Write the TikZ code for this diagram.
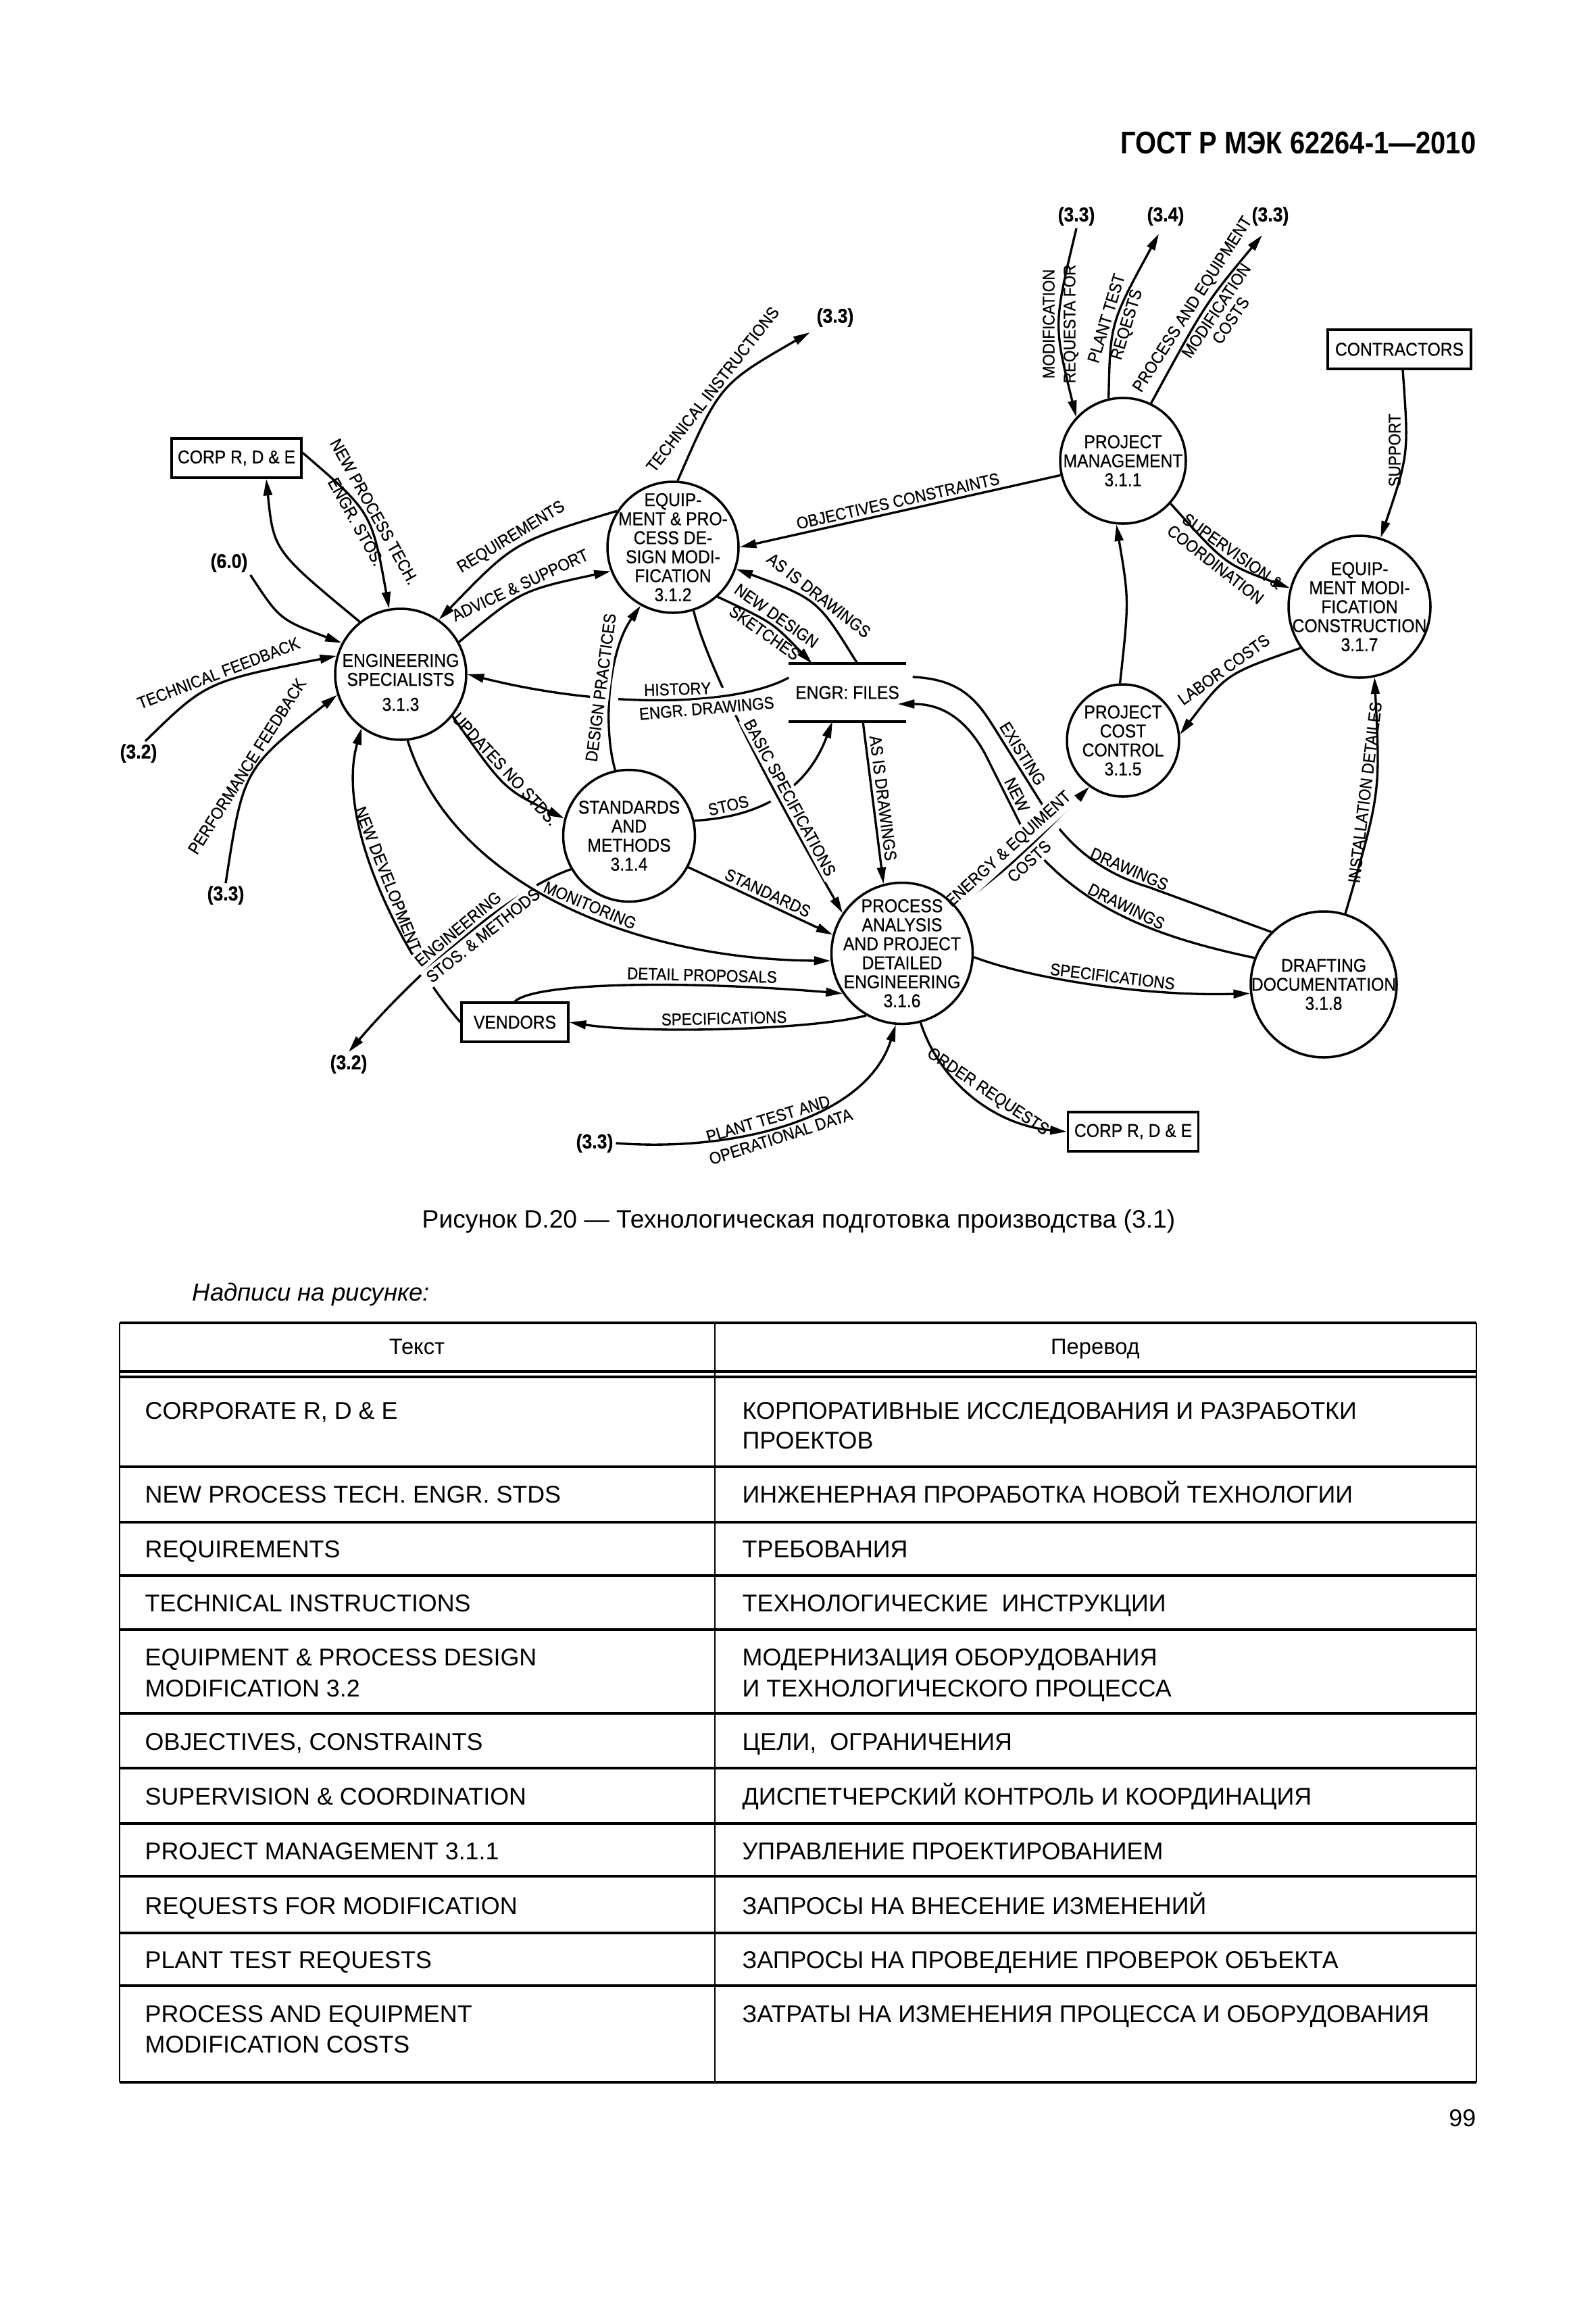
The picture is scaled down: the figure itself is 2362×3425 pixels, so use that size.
\documentclass[tikz,border=0pt]{standalone}
\usepackage{fontspec}
\setmainfont{Liberation Sans}
\newfontfamily\dfdfont[FakeStretch=0.9, FakeBold=0.6]{Liberation Sans}
\newfontfamily\hdrfont[FakeStretch=0.86]{Liberation Sans}
\usetikzlibrary{arrows.meta}
\pgfdeclarelayer{front}
\pgfsetlayers{main,front}

\begin{document}
\begin{tikzpicture}[
  x=0.1mm, y=-0.1mm,
  proc/.style={draw, circle, line width=1pt, inner sep=0pt},
  ptext/.style={font=\dfdfont\fontsize{7.8}{8}\selectfont, align=center, inner sep=0pt},
  extbox/.style={draw, line width=1pt, minimum height=5.8mm, inner sep=0pt,
                 font=\dfdfont\fontsize{7.8}{8}\selectfont},
  srcref/.style={font=\dfdfont\bfseries\fontsize{8.4}{9}\selectfont, inner sep=1pt},
  flow/.style={line width=0.95pt},
  arrow/.style={flow, -{Triangle[length=7pt, width=3.6pt]}},
  hop/.style={preaction={draw=white, line width=7pt, arrows=-}},
  lbl/.style={font=\dfdfont\fontsize{7.1}{7.4}\selectfont, inner sep=1.4pt, align=center},
  wlbl/.style={lbl, fill=white},
  tcell/.style={anchor=base west, inner sep=0pt, font=\fontsize{10.2}{12}\selectfont},
  thead/.style={anchor=base, inner sep=0pt, font=\fontsize{9.3}{11}\selectfont},
  rule/.style={line width=1.2pt}
]
\fill[white] (0,0) rectangle (2362,3425);
\useasboundingbox (0,0) rectangle (2362,3425);

% Page head
\node[anchor=base east, inner sep=0pt, font=\hdrfont\bfseries\fontsize{13.2}{14}\selectfont] (hdr) at (2185,227) {ГОСТ Р МЭК 62264-1—2010};

\begin{pgfonlayer}{front}
  % Processes
  \node[proc, minimum size=18.6mm] (pm) at (1662,682) {};
  \node[ptext] (pmtext) at (pm) {PROJECT\\MANAGEMENT\\3.1.1};
  \node[proc, minimum size=19.4mm] (epd) at (996,810) {};
  \node[ptext] (epdtext) at (epd) {EQUIP-\\MENT \& PRO-\\CESS DE-\\SIGN MODI-\\FICATION\\3.1.2};
  \node[proc, minimum size=19.4mm] (eng) at (593,998) {};
  \node[ptext] (engtext) at ([yshift=-1.2mm]eng) {ENGINEERING\\SPECIALISTS\\[2.5pt]3.1.3};
  \node[proc, minimum size=19.5mm] (stm) at (931,1237) {};
  \node[ptext] (stmtext) at (stm) {STANDARDS\\AND\\METHODS\\3.1.4};
  \node[proc, minimum size=16.6mm] (pcc) at (1662,1096) {};
  \node[ptext] (pcctext) at (pcc) {PROJECT\\COST\\CONTROL\\3.1.5};
  \node[proc, minimum size=20.9mm] (pad) at (1335,1411) {};
  \node[ptext] (padtext) at (pad) {PROCESS\\ANALYSIS\\AND PROJECT\\DETAILED\\ENGINEERING\\3.1.6};
  \node[proc, minimum size=21mm] (emc) at (2012,898) {};
  \node[ptext] (emctext) at (emc) {EQUIP-\\MENT MODI-\\FICATION\\CONSTRUCTION\\3.1.7};
  \node[proc, minimum size=21.6mm] (drd) at (1959,1457) {};
  \node[ptext] (drdtext) at (drd) {DRAFTING\\DOCUMENTATION\\3.1.8};

  % External entities and store
  \node[extbox, minimum width=19.2mm] (corp1) at (350,678) {CORP R, D \& E};
  \node[extbox, minimum width=19.3mm] (corp2) at (1677,1675) {CORP R, D \& E};
  \node[extbox, minimum width=21.2mm] (contr) at (2071,517) {CONTRACTORS};
  \node[extbox, minimum width=15.8mm] (vend) at (762,1513) {VENDORS};
  \node[inner sep=0pt, minimum width=17.2mm, minimum height=8.4mm,
        font=\dfdfont\fontsize{7.8}{8}\selectfont] (files) at (1254,1025) {ENGR: FILES};
  \draw[line width=1.1pt] (files.north west) -- (files.north east)
                          (files.south west) -- (files.south east);

  % Other diagrams
  \node[srcref] (n60) at (339,833) {(6.0)};
  \node[srcref] (n32a) at (205,1115) {(3.2)};
  \node[srcref] (n33b) at (334,1325) {(3.3)};
  \node[srcref] (n32b) at (516,1575) {(3.2)};
  \node[srcref] (n33a) at (1236,470) {(3.3)};
  \node[srcref] (n33c) at (880,1692) {(3.3)};
  \node[srcref] (n33d) at (1593,320) {(3.3)};
  \node[srcref] (n34) at (1725,320) {(3.4)};
  \node[srcref] (n33e) at (1880,320) {(3.3)};
\end{pgfonlayer}

% Engineering specialists
\draw[arrow] ([yshift=0.8mm]corp1.east) .. controls (550,758) .. (eng.100)
  node[lbl, pos=0.5, sloped, above] {NEW PROCESS TECH.}
  node[lbl, pos=0.5, sloped, below] {ENGR. STOS.};
\draw[arrow] (eng.128) .. controls (405,815) .. ([xshift=4.4mm]corp1.south);
\draw[arrow] (n60.south east) .. controls (414,917) .. (eng.152);
\draw[arrow] ([xshift=1mm]n32a.north) .. controls (305,1009) .. (eng.164)
  node[lbl, pos=0.55, sloped, above] {TECHNICAL FEEDBACK};
\draw[arrow] (n33b.north) .. controls (360,1138) .. (eng.198)
  node[lbl, pos=0.52, sloped, above, inner sep=0.8pt] {PERFORMANCE FEEDBACK};
\draw[arrow] (vend.west) .. controls (600,1420) and (495,1220) .. (eng.234)
  node[lbl, pos=0.5, sloped, above] {NEW DEVELOPMENTS};
\draw[arrow] (epd.147) .. controls (761,802) .. (eng.55)
  node[lbl, pos=0.5, sloped, above] {REQUIREMENTS};
\draw[arrow] (eng.29) .. controls (771,874) .. (epd.201)
  node[lbl, pos=0.5, sloped, above] {ADVICE \& SUPPORT};
\draw[arrow] (eng.321) .. controls (746,1168) .. (stm.165)
  node[lbl, pos=0.41, sloped, above] {UPDATES NO STDS.};

% Equipment and process design
\draw[arrow] (epd.86) .. controls (1065,569) .. ([xshift=-0.6mm, yshift=-0.4mm]n33a.south west)
  node[lbl, pos=0.45, sloped, above] {TECHNICAL INSTRUCTIONS};
\draw[arrow] (pm.193) -- (epd.east)
  node[lbl, pos=0.5, sloped, above] {OBJECTIVES CONSTRAINTS};
\draw[arrow] ([xshift=1.5mm]files.north) .. controls (1210,887) .. (epd.341)
  node[lbl, pos=0.5, sloped, above] {AS IS DRAWINGS};

% Around the files
\draw[arrow] (stm.13) .. controls (1110,1210) and (1190,1180) .. ([xshift=-2.2mm]files.south)
  node[lbl, pos=0.22, sloped, above] {STOS};
\draw[arrow, hop] (epd.288) .. controls (1045,980) and (1120,1130) .. (pad.146)
  node[wlbl, pos=0.73, sloped, above] {BASIC SPECIFICATIONS};
\draw[arrow, hop] ([yshift=2.2mm]files.west) .. controls (1090,1045) and (900,1050) .. (eng.east)
  node[lbl, pos=0.45, sloped, above] {HISTORY}
  node[wlbl, pos=0.36, sloped, below] {ENGR. DRAWINGS};
\draw[arrow, hop] (stm.102) .. controls (892,1075) and (900,965) .. (epd.241)
  node[wlbl, pos=0.5, sloped, allow upside down, above] {DESIGN PRACTICES};
\draw[arrow] (epd.312) .. controls (1143,921) .. ([xshift=-5.2mm]files.north)
  node[lbl, pos=0.5, sloped, above] {NEW DESIGN}
  node[lbl, pos=0.5, sloped, below] {SKETCHES};

% Standards and methods
\draw[arrow, hop] (stm.210) .. controls (760,1315) and (620,1435) .. (n32b.north)
  node[wlbl, pos=0.5, sloped, above] {ENGINEERING}
  node[wlbl, pos=0.45, sloped, below] {STOS. \& METHODS};
\draw[arrow] (eng.276) .. controls (670,1310) and (940,1420) .. (pad.186)
  node[lbl, pos=0.55, sloped, above] {MONITORING};
\draw[arrow] (stm.332) -- (pad.165)
  node[lbl, pos=0.52, sloped, above] {STANDARDS};
\draw[arrow] ([xshift=2.3mm]files.south) -- (pad.105)
  node[lbl, pos=0.48, sloped, above] {AS IS DRAWINGS};

% Detailed engineering
\draw[arrow] (vend.north) .. controls (790,1455) and (1000,1450) .. (pad.214)
  node[lbl, pos=0.7, sloped, above] {DETAIL PROPOSALS};
\draw[arrow] (pad.240) .. controls (1200,1525) and (950,1530) .. (vend.east)
  node[lbl, pos=0.5, sloped, above] {SPECIFICATIONS};
\draw[arrow] (n33c.east) .. controls (1080,1705) and (1280,1660) .. (pad.265)
  node[lbl, pos=0.45, sloped, above] {PLANT TEST AND}
  node[lbl, pos=0.47, sloped, below] {OPERATIONAL DATA};
\draw[arrow] (pad.285) .. controls (1390,1600) and (1470,1665) .. (corp2.west)
  node[lbl, pos=0.55, sloped, above] {ORDER REQUESTS};
\draw[arrow] (pad.357) .. controls (1530,1450) and (1700,1475) .. (drd.187)
  node[lbl, pos=0.55, sloped, above] {SPECIFICATIONS};

% Drafting and files
\draw[flow] ([xshift=1mm, yshift=2.3mm]files.east) .. controls (1420,1005) and (1445,1035) .. (1470,1075)
  -- (1550,1203) node[lbl, pos=0.38, sloped, above] {EXISTING}
  .. controls (1590,1262) and (1640,1295) .. (1700,1313) node[lbl, pos=0.8, sloped, above] {DRAWINGS}
  -- (drd.135);
\draw[arrow] (drd.159) .. controls (1700,1385) and (1600,1340) .. (1525,1250)
  node[lbl, pos=0.5, sloped, above] {DRAWINGS}
  -- (1458,1116) node[lbl, pos=0.5, sloped, above] {NEW}
  .. controls (1430,1065) and (1395,1042) .. ([xshift=-1.2mm, yshift=-1.7mm]files.east);
\draw[arrow, hop] (pad.40) .. controls (1502,1276) .. (pcc.234)
  node[wlbl, pos=0.5, sloped, above] {ENERGY \& EQUIMENT}
  node[wlbl, pos=0.55, sloped, below] {COSTS};

% Project management and construction
\draw[arrow] (emc.215) .. controls (1815,997) .. (pcc.6)
  node[lbl, pos=0.5, sloped, above] {LABOR COSTS};
\draw[arrow] (pcc.93) .. controls (1671,888) .. (pm.264);
\draw[arrow] (pm.318) .. controls (1813,835) .. (emc.165)
  node[lbl, pos=0.5, sloped, above] {SUPERVISION \&}
  node[lbl, pos=0.45, sloped, below] {COORDINATION};
\draw[arrow] ([xshift=0.5mm]contr.south) .. controls (2085,672) .. (emc.73)
  node[lbl, pos=0.47, rotate=90, anchor=south] {SUPPORT};
\draw[arrow] (drd.73) .. controls (2043,1174) .. (emc.282)
  node[lbl, pos=0.5, sloped, allow upside down, above] {INSTALLATION DETAILES};
\draw[arrow] (n33d.south) .. controls (1559,480) .. (pm.137)
  node[lbl, pos=0.5, rotate=90, anchor=south] {MODIFICATION}
  node[lbl, pos=0.5, rotate=90, anchor=north] {REQUESTA FOR};
\draw[arrow] (pm.103) .. controls (1643,478) .. ([xshift=-1mm, yshift=-0.8mm]n34.south)
  node[lbl, pos=0.5, sloped, above] {PLANT TEST}
  node[lbl, pos=0.5, sloped, below] {REQESTS};
\draw[arrow] (pm.64) .. controls (1784,449) .. ([xshift=-1.2mm, yshift=-1mm]n33e.south)
  node[lbl, pos=0.47, sloped, above] {PROCESS AND EQUIPMENT}
  node[lbl, pos=0.52, sloped, below] {MODIFICATION\\COSTS};

% Caption
\node[anchor=base, inner sep=0pt, font=\fontsize{10.6}{12}\selectfont] (cap) at (1182,1817)
  {Рисунок D.20 — Технологическая подготовка производства (3.1)};
\node[anchor=base west, inner sep=0pt, font=\itshape\fontsize{10.4}{12}\selectfont] (note) at (284,1925)
  {Надписи\ на\ рисунке:};

% Table
\draw[rule] (177,1958) -- (2185,1958);
\draw[line width=1pt] (177,2030) -- (2185,2030) (177,2038) -- (2185,2038);
\draw[rule] (177,2171) -- (2185,2171) (177,2253) -- (2185,2253)
            (177,2332) -- (2185,2332) (177,2412) -- (2185,2412)
            (177,2536) -- (2185,2536) (177,2617) -- (2185,2617)
            (177,2699) -- (2185,2699) (177,2777) -- (2185,2777)
            (177,2861) -- (2185,2861) (177,2939) -- (2185,2939)
            (177,3082) -- (2185,3082);
\draw[line width=0.6pt] (177,1958) -- (177,3082) (1058,1958) -- (1058,3082) (2185,1958) -- (2185,3082);

\node[thead] (h1) at (617,2004) {Текст};
\node[thead] (h2) at (1621,2004) {Перевод};

\node[tcell] (r1a) at (214,2100) {CORPORATE R, D \& E};
\node[tcell] (r1b) at (1098,2100) {КОРПОРАТИВНЫЕ ИССЛЕДОВАНИЯ И РАЗРАБОТКИ};
\node[tcell] (r1c) at (1098,2144) {ПРОЕКТОВ};
\node[tcell] (r2a) at (214,2224) {NEW PROCESS TECH. ENGR. STDS};
\node[tcell] (r2b) at (1098,2224) {ИНЖЕНЕРНАЯ ПРОРАБОТКА НОВОЙ ТЕХНОЛОГИИ};
\node[tcell] (r3a) at (214,2305) {REQUIREMENTS};
\node[tcell] (r3b) at (1098,2305) {ТРЕБОВАНИЯ};
\node[tcell] (r4a) at (214,2385) {TECHNICAL INSTRUCTIONS};
\node[tcell] (r4b) at (1098,2385) {ТЕХНОЛОГИЧЕСКИЕ\ \ ИНСТРУКЦИИ};
\node[tcell] (r5a) at (214,2465) {EQUIPMENT \& PROCESS DESIGN};
\node[tcell] (r5b) at (214,2511) {MODIFICATION 3.2};
\node[tcell] (r5c) at (1098,2465) {МОДЕРНИЗАЦИЯ ОБОРУДОВАНИЯ};
\node[tcell] (r5d) at (1098,2511) {И ТЕХНОЛОГИЧЕСКОГО ПРОЦЕССА};
\node[tcell] (r6a) at (214,2590) {OBJECTIVES, CONSTRAINTS};
\node[tcell] (r6b) at (1098,2590) {ЦЕЛИ,\ \ ОГРАНИЧЕНИЯ};
\node[tcell] (r7a) at (214,2671) {SUPERVISION \& COORDINATION};
\node[tcell] (r7b) at (1098,2671) {ДИСПЕТЧЕРСКИЙ КОНТРОЛЬ И КООРДИНАЦИЯ};
\node[tcell] (r8a) at (214,2752) {PROJECT MANAGEMENT 3.1.1};
\node[tcell] (r8b) at (1098,2752) {УПРАВЛЕНИЕ ПРОЕКТИРОВАНИЕМ};
\node[tcell] (r9a) at (214,2833) {REQUESTS FOR MODIFICATION};
\node[tcell] (r9b) at (1098,2833) {ЗАПРОСЫ НА ВНЕСЕНИЕ ИЗМЕНЕНИЙ};
\node[tcell] (r10a) at (214,2913) {PLANT TEST REQUESTS};
\node[tcell] (r10b) at (1098,2913) {ЗАПРОСЫ НА ПРОВЕДЕНИЕ ПРОВЕРОК ОБЪЕКТА};
\node[tcell] (r11a) at (214,2993) {PROCESS AND EQUIPMENT};
\node[tcell] (r11b) at (214,3038) {MODIFICATION COSTS};
\node[tcell] (r11c) at (1098,2993) {ЗАТРАТЫ НА ИЗМЕНЕНИЯ ПРОЦЕССА И ОБОРУДОВАНИЯ};

% Page number
\node[anchor=base east, inner sep=0pt, font=\fontsize{10.2}{12}\selectfont] (pgno) at (2185,3147) {99};
\end{tikzpicture}
\end{document}
